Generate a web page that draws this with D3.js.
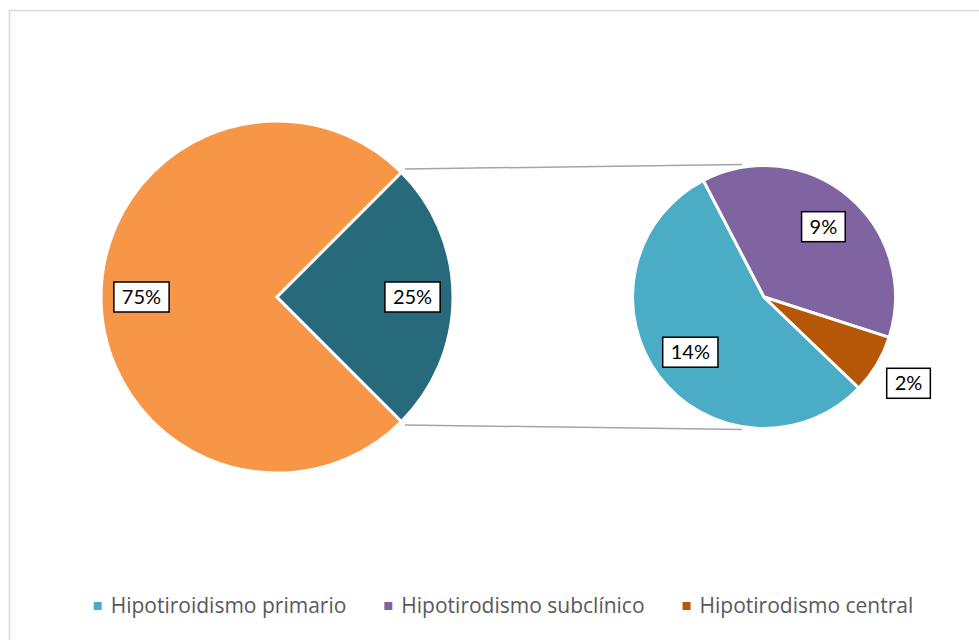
<!DOCTYPE html>
<html>
<head>
<meta charset="utf-8">
<script src="https://cdn.jsdelivr.net/npm/d3@7"></script>
<style>
  body { margin: 0; background: #fff; }
  text { font-family: Lato, "Open Sans", sans-serif; }
</style>
</head>
<body>
<script>
// main pie: rest vs the group broken out into the second pie
const mainLabels = ["Resto", "Hipotiroidismo"];
const mainValues = [75, 25];
const mainColors = ["#F79646", "#276A7C"];

// secondary pie
const subLabels = ["Hipotiroidismo primario", "Hipotirodismo subclínico", "Hipotirodismo central"];
const subValues = [13.8, 9.4, 1.8];
const subColors = ["#4BACC6", "#8064A2", "#B65708"];

var w = 979;
var h = 640;

var svg = d3.select("body").append("svg").attr("width", w).attr("height", h);

// chart frame
svg.append("rect")
  .attr("x", 9.5).attr("y", 10.5)
  .attr("width", 990).attr("height", 660)
  .attr("fill", "none")
  .attr("stroke", "#d9d9d9")
  .attr("stroke-width", 1.5);

var deg = Math.PI / 180;

// main pie
var c1 = { x: 277, y: 297 }, r1 = 176;
var pie1 = d3.pie().sort(null).startAngle(135 * deg).endAngle(495 * deg);
var arc1 = d3.arc().innerRadius(0).outerRadius(r1);
var arcs1 = pie1(mainValues);

// secondary pie
var c2 = { x: 764, y: 297 }, r2 = 131.5;
var pie2 = d3.pie().sort(null).startAngle(133.8 * deg).endAngle((133.8 + 360) * deg);
var arc2 = d3.arc().innerRadius(0).outerRadius(r2);
var arcs2 = pie2(subValues);

// connector lines from the broken-out slice to the second pie
var teal = arcs1[1];
var pt = (a, r, c) => [c.x + Math.sin(a) * r, c.y - Math.cos(a) * r];
var conn = [
  [pt(teal.startAngle, r1 + 5, c1), [c2.x - 22, c2.y - r2 - 1]],
  [pt(teal.endAngle, r1 + 5, c1), [c2.x - 22, c2.y + r2 + 1]]
];
svg.selectAll(".conn").data(conn).enter().append("line")
  .attr("class", "conn")
  .attr("x1", d => d[0][0]).attr("y1", d => d[0][1])
  .attr("x2", d => d[1][0]).attr("y2", d => d[1][1])
  .attr("stroke", "#a6a6a6")
  .attr("stroke-width", 1.5);

var g1 = svg.append("g").attr("transform", "translate(" + c1.x + "," + c1.y + ")");
g1.selectAll("path").data(arcs1).enter().append("path")
  .attr("d", arc1)
  .attr("fill", (d, i) => mainColors[i])
  .attr("stroke", "#fff")
  .attr("stroke-width", 3);

var g2 = svg.append("g").attr("transform", "translate(" + c2.x + "," + c2.y + ")");
g2.selectAll("path").data(arcs2).enter().append("path")
  .attr("d", arc2)
  .attr("fill", (d, i) => subColors[i])
  .attr("stroke", "#fff")
  .attr("stroke-width", 3);

// data labels in boxes
function label(g, d, rr) {
  var a = (d.startAngle + d.endAngle) / 2;
  var x = Math.sin(a) * rr, y = -Math.cos(a) * rr;
  var lg = g.append("g").attr("transform", "translate(" + x + "," + y + ")");
  var t = lg.append("text")
    .attr("text-anchor", "middle")
    .attr("dy", "0.35em")
    .attr("font-size", 20)
    .attr("fill", "#000")
    .text(Math.round(d.value) + "%");
  var tw = t.node().getComputedTextLength();
  lg.insert("rect", "text")
    .attr("x", -tw / 2 - 8).attr("y", -15)
    .attr("width", tw + 16).attr("height", 30)
    .attr("fill", "#fff")
    .attr("stroke", "#000")
    .attr("stroke-width", 1.5);
}
arcs1.forEach(d => label(g1, d, r1 * 0.77));
arcs2.forEach(d => {
  var frac = (d.endAngle - d.startAngle) / (2 * Math.PI);
  label(g2, d, frac < 0.1 ? r2 * 1.28 : r2 * 0.7);
});

// legend
var legend = svg.append("g").attr("transform", "translate(0,606)");
var items = legend.selectAll("g").data(subLabels).enter().append("g");
items.append("rect")
  .attr("width", 8).attr("height", 8)
  .attr("y", -4)
  .attr("fill", (d, i) => subColors[i]);
items.append("text")
  .attr("x", 17)
  .attr("dy", "0.35em")
  .style("font-family", "'Open Sans', sans-serif")
  .attr("font-size", 21)
  .attr("fill", "#595959")
  .text(d => d);
var xpos = 0;
var widths = [];
items.each(function () { widths.push(this.getBBox().width); });
items.attr("transform", function (d, i) {
  var x = xpos;
  xpos += widths[i] + 38;
  return "translate(" + x + ",0)";
});
var total = xpos - 38;
legend.attr("transform", "translate(" + (503.5 - total / 2) + ",606)");
</script>
</body>
</html>
